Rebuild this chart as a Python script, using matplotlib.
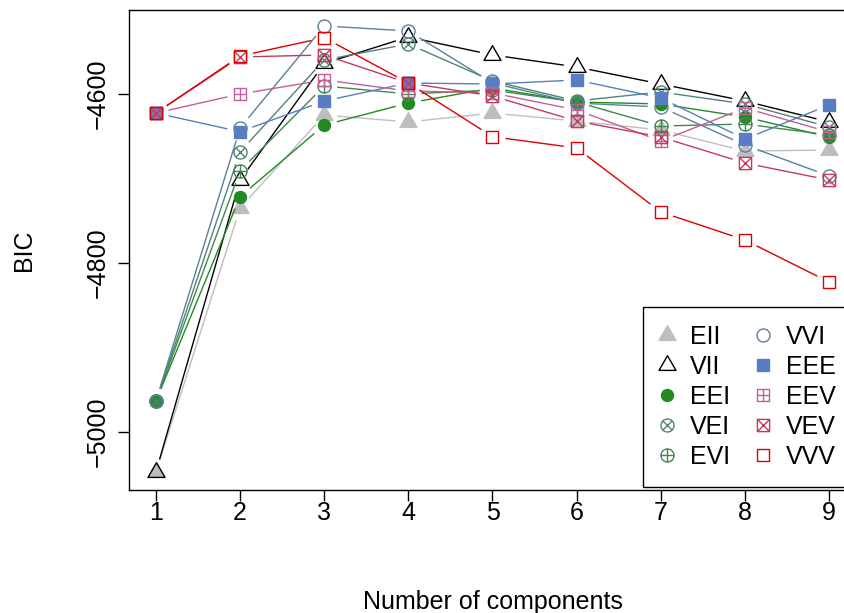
import numpy as np
import matplotlib
matplotlib.use("Agg")
import matplotlib.pyplot as plt
from matplotlib.path import Path
from matplotlib.lines import Line2D

plt.rcParams['font.family'] = ['Liberation Sans', 'DejaVu Sans']

components = [1, 2, 3, 4, 5, 6, 7, 8, 9]
models = ["EII", "VII", "EEI", "VEI", "EVI", "VVI", "EEE", "EEV", "VEV", "VVV"]

EII = [-5047.3, -4734.9, -4624.9, -4633.1, -4622.5, -4632.0, -4642.6, -4667.5, -4666.3]
VII = [-5047.3, -4701.8, -4563.9, -4532.5, -4553.8, -4568.0, -4588.2, -4608.3, -4633.1]
EEI = [-4963.3, -4721.5, -4636.7, -4610.7, -4592.9, -4609.5, -4611.8, -4627.2, -4650.9]
VEI = [-4963.3, -4668.3, -4559.8, -4540.8, -4584.6, -4608.3, -4597.6, -4611.8, -4639.0]
EVI = [-4963.3, -4690.8, -4590.5, -4600.0, -4595.3, -4609.5, -4637.9, -4635.5, -4648.5]
VVI = [-4963.3, -4640.2, -4519.5, -4525.4, -4587.0, -4610.7, -4615.4, -4660.4, -4697.0]
EEE = [-4622.5, -4644.6, -4608.3, -4587.0, -4588.2, -4583.4, -4604.7, -4653.3, -4613.0]
EEV = [-4622.5, -4600.0, -4583.4, -4596.4, -4598.8, -4618.9, -4655.6, -4616.6, -4645.0]
VEV = [-4622.5, -4556.2, -4553.8, -4587.0, -4602.4, -4632.0, -4650.9, -4681.7, -4701.8]
VVV = [-4622.5, -4555.0, -4533.4, -4587.0, -4650.5, -4663.9, -4739.6, -4772.8, -4822.5]

series = {"EII": EII, "VII": VII, "EEI": EEI, "VEI": VEI, "EVI": EVI,
          "VVI": VVI, "EEE": EEE, "EEV": EEV, "VEV": VEV, "VVV": VVV}

colors = {"EII": "#BEBEBE", "VII": "#000000", "EEI": "#218B21", "VEI": "#508476",
          "EVI": "#41884F", "VVI": "#58819C", "EEE": "#597DC3", "EEV": "#C0609A",
          "VEV": "#C43A5E", "VVV": "#DD0000"}

# marker paths
M, L, C = Path.MOVETO, Path.LINETO, Path.CLOSEPOLY
circ = Path.unit_circle()
s = 0.7071
xcross = Path([(-s, -s), (s, s), (-s, s), (s, -s)], [M, L, M, L])
pcross = Path([(-1, 0), (1, 0), (0, -1), (0, 1)], [M, L, M, L])
sq = Path([(-1, -1), (1, -1), (1, 1), (-1, 1), (-1, -1)], [M, L, L, L, C])
sqx = Path([(-1, -1), (1, 1), (-1, 1), (1, -1)], [M, L, M, L])
tri = Path([(0, 1), (-0.866, -0.5), (0.866, -0.5), (0, 1)], [M, L, L, C])
otimes = Path.make_compound_path(circ, xcross)
oplus = Path.make_compound_path(circ, pcross)
sqplus = Path.make_compound_path(sq, pcross)
sqtimes = Path.make_compound_path(sq, sqx)

mstyle = {
    "EII": dict(marker=tri, ms=14.1, mfc=colors["EII"], mec=colors["EII"]),
    "VII": dict(marker=tri, ms=14.1, mfc="none", mec=colors["VII"]),
    "EEI": dict(marker="o", ms=8.6, mfc=colors["EEI"], mec=colors["EEI"]),
    "VEI": dict(marker=otimes, ms=9.4, mfc="none", mec=colors["VEI"]),
    "EVI": dict(marker=oplus, ms=9.4, mfc="none", mec=colors["EVI"]),
    "VVI": dict(marker="o", ms=9.4, mfc="none", mec=colors["VVI"]),
    "EEE": dict(marker="s", ms=8.4, mfc=colors["EEE"], mec=colors["EEE"]),
    "EEV": dict(marker=sqplus, ms=8.8, mfc="none", mec=colors["EEV"]),
    "VEV": dict(marker=sqtimes, ms=8.8, mfc="none", mec=colors["VEV"]),
    "VVV": dict(marker=sq, ms=8.8, mfc="none", mec=colors["VVV"]),
}

W, H = 845, 613
fig = plt.figure(figsize=(W / 100, H / 100), dpi=100)
ax = fig.add_axes([129 / W, 1 - 490 / H, 727 / W, 480 / H])
ax.set_xlim(0.68, 9.32)
ax.set_ylim(-5068.6, -4500.6)

trans = ax.transData
inv = trans.inverted()
gap = 13.0
k = np.array(components, dtype=float)
for z, name in enumerate(models):
    vals = np.array(series[name], dtype=float)
    pts = trans.transform(np.column_stack([k, vals]))
    for i in range(len(pts) - 1):
        p0, p1 = pts[i], pts[i + 1]
        d = p1 - p0
        ln = np.hypot(*d)
        if ln > 2 * gap:
            u = d / ln
            seg = inv.transform(np.array([p0 + u * gap, p1 - u * gap]))
            ax.plot(seg[:, 0], seg[:, 1], color=colors[name], lw=1.0,
                    zorder=2 + z * 0.1, solid_capstyle='butt')
    ax.plot(k, vals, ls='none', mew=1.0, zorder=2.05 + z * 0.1, **mstyle[name])

ax.set_xticks(components)
ax.set_yticks([-5000, -4800, -4600])
ax.tick_params(axis='both', labelsize=18, length=8, width=1, color='black')
ax.tick_params(axis='x', pad=0)
ax.tick_params(axis='y', pad=6)
for lab in ax.get_yticklabels():
    lab.set_rotation(90)
    lab.set_va('center')
for sp in ax.spines.values():
    sp.set_linewidth(1.0)
    sp.set_color('black')

ax.set_xlabel("Number of components", fontsize=18, labelpad=47)
ax.set_ylabel("BIC", fontsize=18, labelpad=36)

handles = [Line2D([], [], ls='none', mew=1.0, **mstyle[n]) for n in models]
leg = ax.legend(handles, models, ncol=2, fontsize=18, loc='lower left',
                bbox_to_anchor=(0.707, 0.006), borderaxespad=0,
                frameon=True, fancybox=False, framealpha=1, edgecolor='black',
                handlelength=0.48, handletextpad=0.68, columnspacing=1.08,
                borderpad=0.72, labelspacing=0.245)
leg.get_frame().set_linewidth(1.0)
leg.set_zorder(10)

fig.savefig("out.png", dpi=100)
